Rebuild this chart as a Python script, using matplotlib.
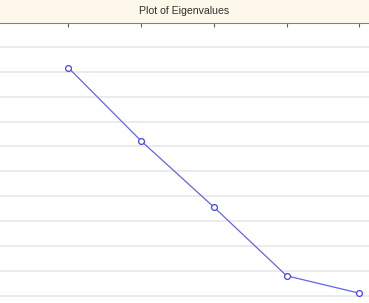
import matplotlib.pyplot as plt
from matplotlib.patches import Rectangle
import numpy as np

# eigenvalue number and value (only the visible part of the plot)
factor_num = [1, 2, 3, 4, 5]
eigenvalues = [4.58, 3.11, 1.78, 0.40, 0.05]
grid_levels = np.arange(0, 5.01, 0.5)

fig = plt.figure(figsize=(3.69, 3.03), dpi=100)
fig.patch.set_facecolor("white")

# title bar
bar_h = 23 / 303
fig.patches.append(Rectangle((0, 1 - bar_h), 1, bar_h, transform=fig.transFigure,
                             facecolor="#fdf8e9", edgecolor="none", zorder=0))
fig.text(0.5, 1 - bar_h / 2, "Plot of Eigenvalues", ha="center", va="center",
         fontsize=7.6, family="Liberation Sans", color="#303030")

ax = fig.add_axes([0, 0, 1, 1 - bar_h])
ax.set_facecolor("white")

for g in grid_levels:
    ax.axhline(g, color="#e8e8e8", lw=1.2, zorder=1)

ax.plot(factor_num, eigenvalues, color="#6464e6", lw=0.9, marker="o", ms=4.2,
        mfc="white", mec="#4646e0", mew=0.9, zorder=3)

ax.set_xlim(0.058, 5.133)
ax.set_ylim(-0.147, 5.483)

for s in ["left", "right", "bottom"]:
    ax.spines[s].set_visible(False)
ax.spines["top"].set_color("#808080")
ax.spines["top"].set_linewidth(1.5)

ax.xaxis.set_ticks_position("top")
ax.set_xticks(factor_num)
ax.tick_params(axis="x", direction="in", length=3, width=0.8, color="#606060",
               labeltop=False, labelbottom=False)
ax.set_yticks([])

fig.savefig("out.png", dpi=100, facecolor=fig.get_facecolor())
